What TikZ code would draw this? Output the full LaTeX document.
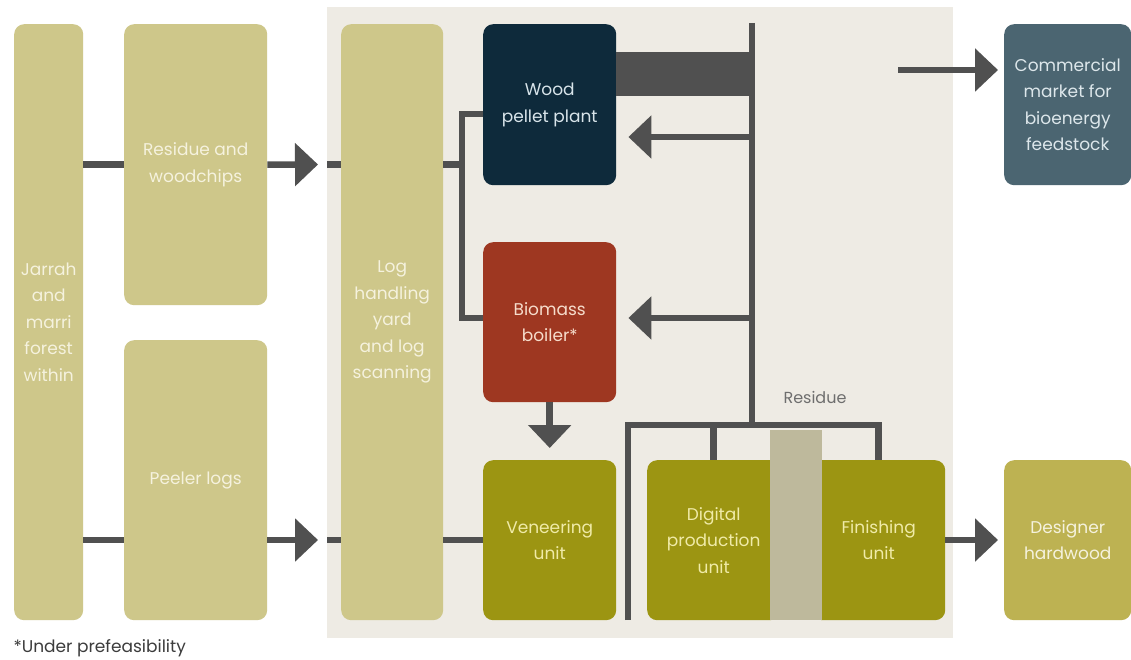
\documentclass[tikz,border=0pt]{standalone}
\usepackage{fontspec}
\setmainfont{Poppins}
\usetikzlibrary{arrows.meta}
\definecolor{khaki}{HTML}{CEC78A}
\definecolor{khakitext}{HTML}{F5F2DE}
\definecolor{olive}{HTML}{9C9512}
\definecolor{olivetext}{HTML}{F0EBA8}
\definecolor{navy}{HTML}{0E2A3B}
\definecolor{navytext}{HTML}{D8E4EA}
\definecolor{rust}{HTML}{9E3721}
\definecolor{rusttext}{HTML}{F6DCCB}
\definecolor{slate}{HTML}{4B6571}
\definecolor{slatetext}{HTML}{DDE7EB}
\definecolor{designer}{HTML}{BDB252}
\definecolor{panel}{HTML}{EEEBE4}
\definecolor{cgray}{HTML}{505050}
\definecolor{band}{HTML}{BEB99C}
\definecolor{labelgray}{HTML}{6E6E6E}
\definecolor{notegray}{HTML}{3C3C3C}
\begin{document}
\begin{tikzpicture}[x=1pt,y=-1pt,
  box/.style={rounded corners=10pt, inner sep=0pt, align=center, anchor=north west,
    font=\fontsize{17}{26.5}\selectfont},
  conn/.style={draw=cgray, line width=6.5pt},
  arr/.style={conn, -{Triangle[length=23pt,width=42pt]}}]
\useasboundingbox (0,0) rectangle (1131,660);
\fill[white] (0,0) rectangle (1131,660);
\fill[panel] (327,7) rectangle (953,638);

% boxes
\node[box, fill=khaki, text=khakitext, minimum width=69pt, minimum height=596pt] (jarrah) at (14,24) {Jarrah\\and\\marri\\forest\\within};
\node[box, fill=khaki, text=khakitext, minimum width=143pt, minimum height=281pt] (residue) at (124,24) {Residue and\\woodchips};
\node[box, fill=khaki, text=khakitext, minimum width=143pt, minimum height=280pt] (peeler) at (124,340) {Peeler logs};
\node[box, fill=khaki, text=khakitext, minimum width=102pt, minimum height=596pt] (log) at (341,24) {Log\\handling\\yard\\and log\\scanning};
\node[box, fill=navy, text=navytext, minimum width=133pt, minimum height=161pt] (pellet) at (483,24) {Wood\\pellet plant};
\node[box, fill=rust, text=rusttext, minimum width=133pt, minimum height=160pt] (boiler) at (483,242) {Biomass\\boiler*};
\node[box, fill=olive, text=olivetext, minimum width=133pt, minimum height=160pt] (veneer) at (483,460) {Veneering\\unit};
\node[box, fill=olive, text=olivetext, minimum width=133pt, minimum height=160pt, text width=123pt] (digital) at (647,460) {Digital\\production\\unit};
\node[box, fill=olive, text=olivetext, minimum width=133pt, minimum height=160pt, text width=123pt] (finishing) at (812,460) {Finishing\\unit};
\node[box, fill=slate, text=slatetext, minimum width=127pt, minimum height=161pt] (commercial) at (1004,24) {Commercial\\market for\\bioenergy\\feedstock};
\node[box, fill=designer, text=khakitext, minimum width=127pt, minimum height=160pt] (designerhw) at (1004,460) {Designer\\hardwood};

% named points
\coordinate (lowrow) at (0,540);
\coordinate (stub1) at (327,164.5);
\coordinate (stub2) at (327,540);
\coordinate (tip1) at (318,164.5);
\coordinate (tip2) at (318,540);
\coordinate (jx) at (462,164.5);
\coordinate (p1) at (462,114);
\coordinate (p2) at (462,318);
\coordinate (bt) at (752,23);
\coordinate (bb) at (752,425);
\coordinate (a1) at (752,137);
\coordinate (a2) at (752,318);
\coordinate (rl) at (628,620);
\coordinate (rlt) at (628,425);
\coordinate (rr) at (finishing.north |- bb);
\coordinate (rd) at (digital.north |- bb);
\coordinate (cm) at (898,70);

% connectors
\draw[conn] (jarrah.east |- residue.west) -- (residue.west);
\draw[conn] (jarrah.east |- lowrow) -- (peeler.west |- lowrow);
\draw[arr] (residue.east) -- (tip1);
\draw[arr] (peeler.east |- lowrow) -- (tip2);
\draw[conn] (stub1) -- (log.west |- stub1);
\draw[conn] (stub2) -- (log.west |- stub2);
\draw[conn] (log.east |- jx) -- (jx);
\draw[conn] (pellet.west |- p1) -- (p1) -- (p2) -- (boiler.west |- p2);
\draw[conn] (log.east |- lowrow) -- (veneer.west |- lowrow);

\fill[cgray] (pellet.east |- 0,52) rectangle (752,96);
\draw[conn] (bt) -- (bb);
\draw[arr, shorten >=12pt] (a1) -- (pellet.east |- a1);
\draw[arr, shorten >=12pt] (a2) -- (boiler.east |- a2);
\draw[arr, shorten >=12pt] (boiler.south) -- (veneer.north);

\draw[conn] (rl) -- (rlt) -- (rr) -- (finishing.north);
\draw[conn] (rd) -- (digital.north);
\fill[band] (770,430) rectangle (822,620);
\node[font=\fontsize{16}{18}\selectfont, text=labelgray] (reslabel) at (815,397) {Residue};

\draw[arr, shorten >=6pt] (finishing.east |- lowrow) -- (designerhw.west |- lowrow);
\draw[arr, shorten >=6pt] (cm) -- (commercial.west |- cm);

\node[anchor=west, font=\fontsize{17}{19}\selectfont, text=notegray] (note) at (10,648) {*Under prefeasibility};
\end{tikzpicture}
\end{document}
